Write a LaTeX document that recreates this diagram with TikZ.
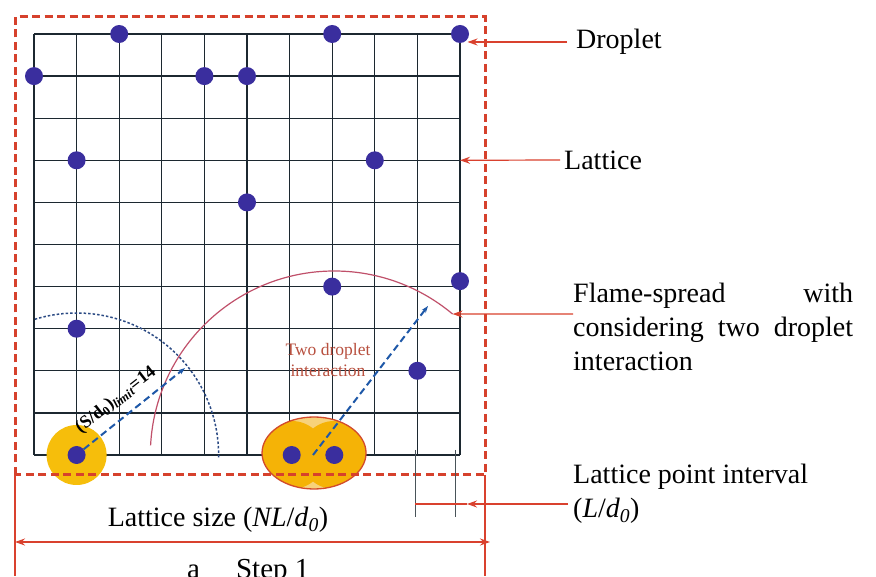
\documentclass[tikz,border=0pt]{standalone}
\usepackage{fontspec}
\setmainfont{Liberation Serif}
\usetikzlibrary{arrows.meta,calc,positioning}
\definecolor{GridDark}{HTML}{1C2830}
\definecolor{DropBlue}{HTML}{3A2E9E}
\definecolor{HaloGold}{HTML}{F6BE0B}
\definecolor{PairGold}{HTML}{F5B306}
\definecolor{HaloPale}{HTML}{F7D27B}
\definecolor{FrameRed}{HTML}{D6412C}
\definecolor{LineRed}{HTML}{D9412E}
\definecolor{PairRed}{HTML}{D24A2C}
\definecolor{FlameRose}{HTML}{C0506A}
\definecolor{ArcBlue}{HTML}{2B4A84}
\definecolor{DashBlue}{HTML}{1E58A8}
\definecolor{TextRed}{HTML}{B8503F}

\begin{document}
\begin{tikzpicture}[x=1pt, y=1pt, >=Stealth,
    gline/.style={draw=GridDark, line width=1.3pt},
    drop/.style={circle, fill=DropBlue, inner sep=0pt, minimum size=18pt},
    halo/.style={fill=HaloGold},
    frame/.style={draw=FrameRed, line width=3pt, dash pattern=on 8pt off 4.5pt},
    ra/.style={-{Stealth[length=10pt, width=7pt]}, draw=LineRed, line width=1.2pt},
    rl/.style={draw=LineRed, line width=1.2pt},
    tick/.style={draw=GridDark!80, line width=1pt},
    bda/.style={-{Stealth[length=7pt, width=5pt]}, draw=DashBlue, line width=2pt,
                dash pattern=on 7pt off 4pt},
    dotarc/.style={draw=ArcBlue, line width=1.5pt, dash pattern=on 2.5pt off 2pt},
    flame/.style={draw=FlameRose, line width=1.2pt},
    lab/.style={font=\fontsize{28}{34}\selectfont, inner sep=0pt},
  ]
  \useasboundingbox (0,0) rectangle (876,576);
  \clip (0,0) rectangle (876,576);
  \fill[white] (0,0) rectangle (876,576);

  % lattice
  \begin{scope}[shift={(34,121)}, x=42.6pt, y=42.1pt]
    \foreach \k in {0,...,10} {
      \draw[gline] (\k,0) -- (\k,10);
      \draw[gline] (0,\k) -- (10,\k);
    }
    \coordinate (hs) at (1,0);
    \coordinate (hl) at (6.05,0);
    \coordinate (hr) at (7.05,0);
    \coordinate (latt) at (10,7);
  \end{scope}
  \coordinate (pair) at ($(hl)!0.5!(hr)$);

  % flame zones
  \fill[halo] (hs) circle[radius=30];
  \begin{scope}
    \clip ($(pair)+(1,2)$) ellipse[x radius=52, y radius=36];
    \fill[HaloPale] ($(pair)+(1,2)$) ellipse[x radius=52, y radius=36];
    \fill[PairGold] (hl) circle[radius=34] (hr) circle[radius=34];
  \end{scope}
  \draw[draw=PairRed, line width=1.3pt] ($(pair)+(1,2)$) ellipse[x radius=52, y radius=36];

  \draw[frame] (15,101) rectangle (485,559);

  % droplets
  \begin{scope}[shift={(34,121)}, x=42.6pt, y=42.1pt]
    \foreach \p [count=\n] in {(2,10),(7,10),(10,10),(0,9),(4,9),(5,9),(1,7),(8,7),
                               (5,6),(10,4.13),(7,4),(1,3),(9,2)}
      \node[drop] (d\n) at \p {};
  \end{scope}
  \node[drop] (ds) at (hs) {};
  \node[drop] (dl) at (hl) {};
  \node[drop] (dr) at (hr) {};

  \draw[dotarc] ($(ds)+(-1:142)$) arc[start angle=-1, end angle=107, radius=142];
  \draw[flame] ($(dr)+(177:184)$) arc[start angle=177, end angle=50, radius=184]
               coordinate (ftip);

  \coordinate (stip) at (185,208);
  \coordinate (ptip) at (428,270);
  \draw[bda] (ds.39) -- (stip);
  \draw[bda] (pair) -- (ptip);

  \node[font=\fontsize{18}{20}\selectfont\bfseries, rotate=38, inner sep=0pt]
       (lslim) at (116,176) {(S/d\textsubscript{0})\textsubscript{\textit{limit}}=14};
  \node[font=\fontsize{17.5}{21}\selectfont, text=TextRed, align=center, inner sep=0pt]
       (ltwo) at (328,216) {Two droplet\\interaction};

  % labels
  \node[lab, anchor=west, inner xsep=9pt] (ldrop) at (567,534) {Droplet};
  \draw[ra] (ldrop.west) -- (ldrop.west -| d3.-35);

  \node[lab, anchor=west, inner xsep=4pt] (llat) at (560,416) {Lattice};
  \draw[ra] (llat.west) -- (latt);

  \node[lab, anchor=north west, text width=280pt, align=left] (lflame) at (573,293)
       {Flame-spread\hfill with\\ considering\hfill two\hfill droplet\\ interaction};
  \draw[ra] ($(lflame.north west)+(0,-31)$) -- (ftip);

  \node[lab, anchor=north west, align=left] (livl) at (573,112)
       {Lattice point interval\\(\textit{L}/\textit{d}\textsubscript{\textit{0}})};
  \coordinate (ivl) at (415,72);
  \coordinate (ivtip) at (467,72);
  \draw[tick] (415,126) -- (415,59);
  \draw[tick] (455,126) -- (455,59);
  \draw[rl] (ivl) -- (ivtip);
  \draw[ra] ($(livl.north west)+(-5,-40)$) -- (ivtip);

  \draw[rl] (15,101) -- (15,0);
  \draw[rl] (485,101) -- (485,0);
  \coordinate (szl) at (15,34);
  \coordinate (szr) at (490,34);
  \draw[rl, {Stealth[length=10pt, width=7pt]}-{Stealth[length=10pt, width=7pt]}] (szl) -- (szr);
  \node[lab, anchor=base] (lsize) at (218,49)
       {Lattice size (\textit{NL}/\textit{d}\textsubscript{\textit{0}})};

  \node[font=\fontsize{29}{34}\selectfont, anchor=base west, inner sep=0pt]
       (lcap) at (187,-2) {a\hspace{36pt}Step 1};
\end{tikzpicture}
\end{document}
